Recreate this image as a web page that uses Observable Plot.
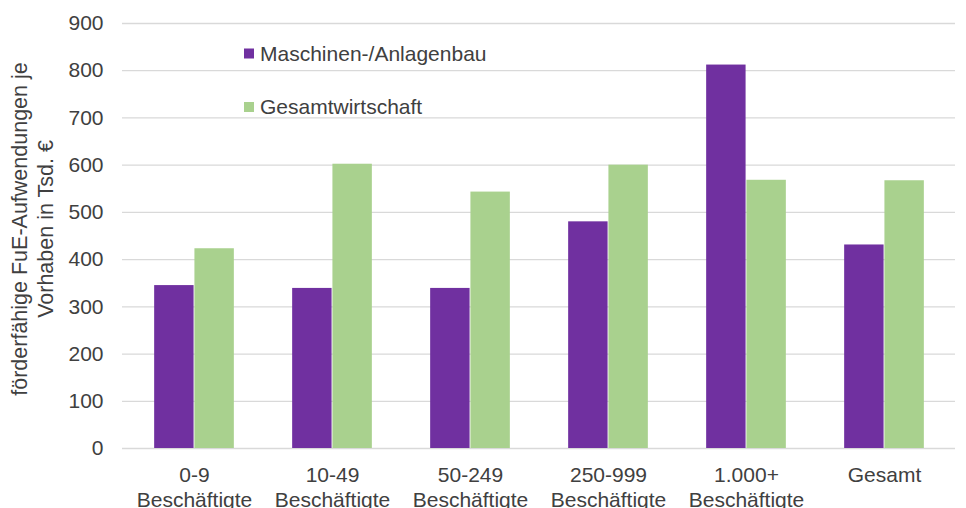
<!DOCTYPE html>
<html>
<head>
<meta charset="utf-8">
<script src="https://cdn.jsdelivr.net/npm/d3@7"></script>
<script src="https://cdn.jsdelivr.net/npm/@observablehq/plot@0.6"></script>
<style>
  html, body { margin: 0; padding: 0; background: #fff; }
  #chart { width: 966px; height: 508px; }
</style>
</head>
<body>
<div id="chart"></div>
<script>
// Categories (x tick labels)
const categories = [
  "0-9\nBeschäftigte",
  "10-49\nBeschäftigte",
  "50-249\nBeschäftigte",
  "250-999\nBeschäftigte",
  "1.000+\nBeschäftigte",
  "Gesamt"
];
// Series
const seriesNames = ["Maschinen-/Anlagenbau", "Gesamtwirtschaft"];
const seriesColors = ["#7030A0", "#A9D18E"];
const maschinenValues = [345, 339, 339, 480, 812, 431];
const gesamtValues = [423, 602, 543, 600, 568, 567];
// Y ticks
const yTicks = [0, 100, 200, 300, 400, 500, 600, 700, 800, 900];
const yTitle = "förderfähige FuE-Aufwendungen je\nVorhaben in Tsd. €";

const W = 966, H = 508;
const mL = 122, mR = 11, mT = 23, mB = 60;
const step = (W - mL - mR) / categories.length;
const outer = 0.21 * step;        // gap before the pair of bars
const barW = (step - 2 * outer) / 2;
const FONT = "'Liberation Sans', Arial, sans-serif";

const rowsM = categories.map((c, i) => ({cat: c, value: maschinenValues[i]}));
const rowsG = categories.map((c, i) => ({cat: c, value: gesamtValues[i]}));

const chart = Plot.plot({
  width: W,
  height: H,
  marginLeft: mL,
  marginRight: mR,
  marginTop: mT,
  marginBottom: mB,
  style: {fontFamily: FONT, fontSize: "21px", color: "#404040", background: "#fff"},
  x: {domain: categories, padding: 0, label: null},
  y: {domain: [0, 900], label: null},
  marks: [
    Plot.ruleY(yTicks, {stroke: "#d9d9d9", strokeWidth: 1.3}),
    Plot.barY(rowsM, {x: "cat", y: "value", fill: seriesColors[0], insetLeft: outer, insetRight: outer + barW}),
    Plot.barY(rowsG, {x: "cat", y: "value", fill: seriesColors[1], insetLeft: outer + barW, insetRight: outer}),
    Plot.axisY(yTicks, {tickSize: 0, tickPadding: 19, fontSize: 21, label: null, fill: "#404040"}),
    Plot.axisX({tickSize: 0, tickPadding: 15, fontSize: 21, lineHeight: 1.22, label: null, fill: "#404040"}),
    Plot.text([yTitle], {frameAnchor: "left", rotate: -90, dx: -91, dy: -7, fontSize: 21.5, lineHeight: 1.22, fill: "#404040", textAnchor: "middle"})
  ]
});

document.getElementById("chart").appendChild(chart);

// Legend drawn inside the SVG
const svg = d3.select(chart);
const legend = svg.append("g")
  .attr("font-family", FONT)
  .attr("font-size", 21)
  .attr("text-anchor", "start")
  .attr("fill", "#404040");
seriesNames.forEach((name, i) => {
  const cy = 53.5 + i * 53.5;
  legend.append("rect").attr("x", 244).attr("y", cy - 5).attr("width", 10).attr("height", 10).attr("fill", seriesColors[i]);
  legend.append("text").attr("x", 260).attr("y", cy).attr("dy", "0.35em").attr("text-anchor", "start").text(name);
});
</script>
</body>
</html>
